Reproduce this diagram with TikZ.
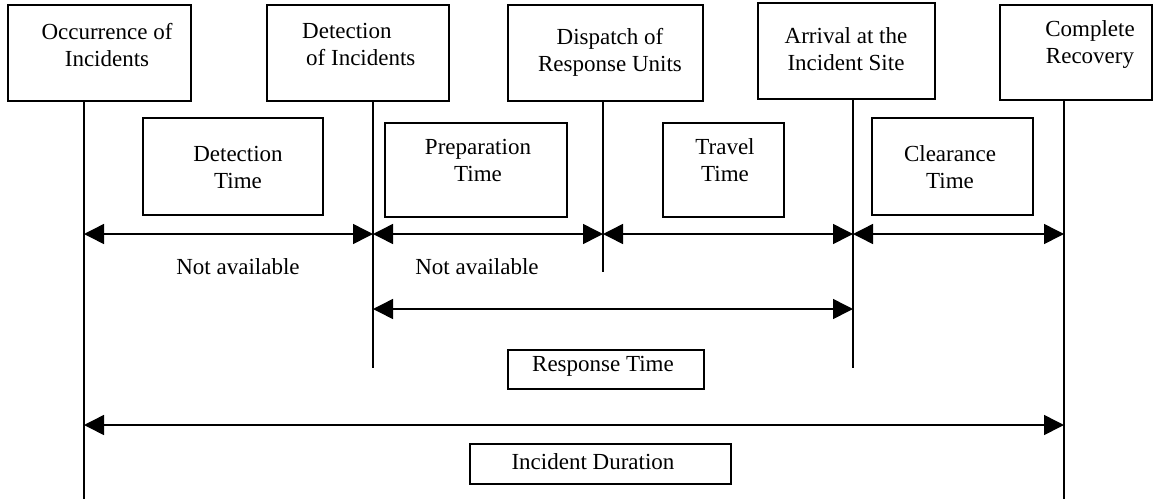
\documentclass[tikz,border=0pt]{standalone}
\usepackage{fontspec}
\setmainfont{Liberation Serif}
\usetikzlibrary{arrows.meta}
\begin{document}
\begin{tikzpicture}[x=1pt,y=-1pt,
  box/.style={draw, line width=1.6pt, inner sep=0pt},
  lbl/.style={inner sep=0pt, align=center, font=\fontsize{23}{27}\selectfont},
  vline/.style={line width=1.6pt},
  dimarrow/.style={line width=1.5pt, {Triangle[length=20pt,width=20pt]}-{Triangle[length=20pt,width=20pt]}}
]
\useasboundingbox (0,0) rectangle (1153,499);
% top event boxes
\node[box, minimum width=183pt, minimum height=96pt] (occ) at (99.5,53) {};
\node[box, minimum width=182pt, minimum height=96pt] (det) at (358,53) {};
\node[box, minimum width=195pt, minimum height=96pt] (disp) at (605.5,53) {};
\node[box, minimum width=177pt, minimum height=96pt] (arr) at (846.5,51) {};
\node[box, minimum width=152pt, minimum height=95pt] (comp) at (1076,52.5) {};
\node[lbl] (occT) at (107,45) {Occurrence of\\Incidents};
\node[lbl, align=left, anchor=west] (detT) at (302,44) {Detection\\\hspace*{4pt}of Incidents};
\node[lbl] (dispT) at (610,52) {Dispatch of\\Response Units};
\node[lbl] (arrT) at (846,49.5) {Arrival at the\\Incident Site};
\node[lbl] (compT) at (1090,44) {Complete\\Recovery};
% interval boxes
\node[box, minimum width=180pt, minimum height=97pt] (dt) at (233,166.5) {};
\node[box, minimum width=182pt, minimum height=94pt] (pt) at (476,170) {};
\node[box, minimum width=121pt, minimum height=94pt] (tt) at (723.5,170) {};
\node[box, minimum width=161pt, minimum height=97pt] (ct) at (952.5,166.5) {};
\node[lbl] (dtT) at (238,167) {Detection\\Time};
\node[lbl] (ptT) at (478,160) {Preparation\\Time};
\node[lbl] (ttT) at (725,160) {Travel\\Time};
\node[lbl] (ctT) at (950,167) {Clearance\\Time};
\node[lbl] (na1) at (238,267) {Not available};
\node[lbl] (na2) at (477,267) {Not available};
% bottom boxes
\node[box, minimum width=196pt, minimum height=39pt] (rt) at (606,369.5) {};
\node[box, minimum width=261pt, minimum height=40pt] (id) at (600.5,464) {};
\node[lbl] (rtT) at (603,366) {Response Time};
\node[lbl] (idT) at (593,462) {Incident Duration};
% vertical time lines
\coordinate (occB) at (84,499);
\coordinate (detB) at (373,368);
\coordinate (dispB) at (603,272);
\coordinate (arrB) at (853,368);
\coordinate (compB) at (1064,499);
\draw[vline] (occ.south -| occB) -- (occB);
\draw[vline] (det.south -| detB) -- (detB);
\draw[vline] (disp.south -| dispB) -- (dispB);
\draw[vline] (arr.south -| arrB) -- (arrB);
\draw[vline] (comp.south -| compB) -- (compB);
% dimension arrows
\coordinate (r1) at (0,234);
\coordinate (r2) at (0,309);
\coordinate (r3) at (0,425);
\draw[dimarrow] (occB |- r1) -- (detB |- r1);
\draw[dimarrow] (detB |- r1) -- (dispB |- r1);
\draw[dimarrow] (dispB |- r1) -- (arrB |- r1);
\draw[dimarrow] (arrB |- r1) -- (compB |- r1);
\draw[dimarrow] (detB |- r2) -- (arrB |- r2);
\draw[dimarrow] (occB |- r3) -- (compB |- r3);
\end{tikzpicture}
\end{document}
